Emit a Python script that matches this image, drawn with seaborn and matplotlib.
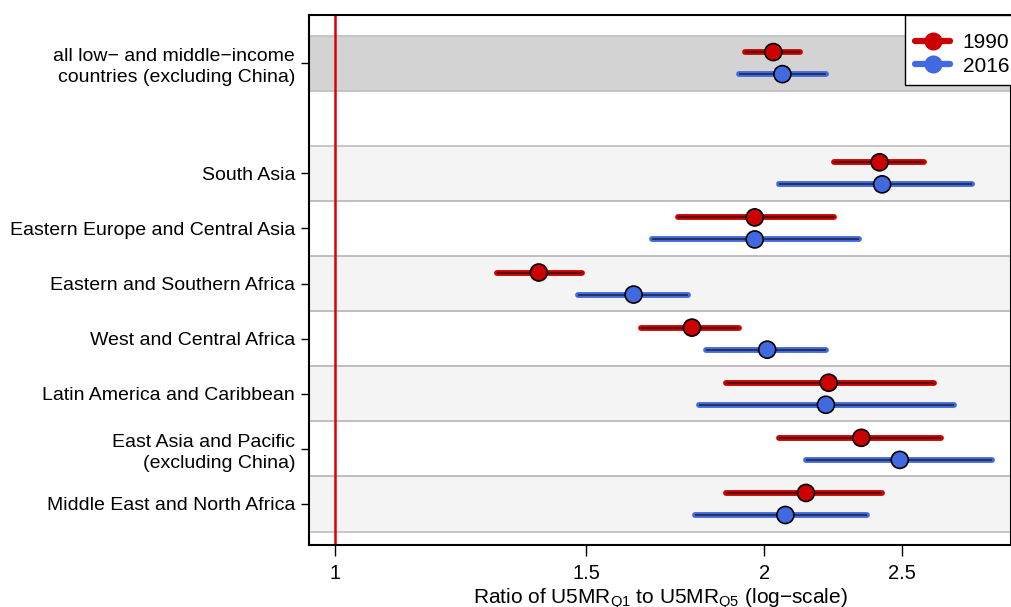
import numpy as np
import pandas as pd
import matplotlib
matplotlib.use("Agg")
import matplotlib.pyplot as plt
from matplotlib.lines import Line2D
import seaborn as sns

# Region labels, top to bottom (None = spacer row)
regions = [
    "all low\u2212 and middle\u2212income\ncountries (excluding China)",
    None,
    "South Asia",
    "Eastern Europe and Central Asia",
    "Eastern and Southern Africa",
    "West and Central Africa",
    "Latin America and Caribbean",
    "East Asia and Pacific\n(excluding China)",
    "Middle East and North Africa",
]

# Ratio of U5MR (poorest quintile / richest quintile) with confidence bounds
ratio_1990 = [2.03, None, 2.41, 1.97, 1.39, 1.78, 2.22, 2.34, 2.14]
lo_1990    = [1.94, None, 2.24, 1.74, 1.30, 1.64, 1.88, 2.05, 1.88]
hi_1990    = [2.12, None, 2.59, 2.24, 1.49, 1.92, 2.63, 2.66, 2.42]

ratio_2016 = [2.06, None, 2.42, 1.97, 1.62, 2.01, 2.21, 2.49, 2.07]
lo_2016    = [1.92, None, 2.05, 1.67, 1.48, 1.82, 1.80, 2.14, 1.79]
hi_2016    = [2.21, None, 2.80, 2.33, 1.77, 2.21, 2.72, 2.89, 2.36]

years = ["1990", "2016"]
colors = {"1990": "#CC0000", "2016": "#4169E1"}
offsets = {"1990": -0.2, "2016": 0.2}

rows = []
for i, name in enumerate(regions):
    if name is None:
        continue
    for yr, r, lo, hi in (("1990", ratio_1990[i], lo_1990[i], hi_1990[i]),
                          ("2016", ratio_2016[i], lo_2016[i], hi_2016[i])):
        rows.append(dict(region=name, row=i, year=yr, ratio=r, lo=lo, hi=hi,
                         ypos=i + offsets[yr]))
df = pd.DataFrame(rows)

sns.set_theme(style="white")
plt.rcParams["font.family"] = ["Liberation Sans", "DejaVu Sans"]
plt.rcParams["text.color"] = "black"
plt.rcParams["axes.labelcolor"] = "black"
plt.rcParams["xtick.color"] = "black"
plt.rcParams["ytick.color"] = "black"
plt.rcParams["mathtext.fontset"] = "custom"
plt.rcParams["mathtext.rm"] = "Liberation Sans"

fig = plt.figure(figsize=(10.11, 6.07), dpi=100)
ax = fig.add_axes([0.3056, 0.1021, 0.6944, 0.8732])

# Background bands
for i, name in enumerate(regions):
    if name is None:
        continue
    if i == 0:
        fc = "#D3D3D3"
    elif i % 2 == 0:
        fc = "#F4F4F4"
    else:
        fc = "white"
    ax.axhspan(i - 0.5, i + 0.5, facecolor=fc, edgecolor="none", zorder=0)
    ax.axhline(i - 0.5, color="#BEBEBE", lw=1.2, zorder=0.5)
    ax.axhline(i + 0.5, color="#BEBEBE", lw=1.2, zorder=0.5)

ax.axvline(1.0, color="#DD0000", lw=1.8, zorder=1)

# Confidence intervals
for yr in years:
    sub = df[df.year == yr]
    ax.hlines(sub.ypos, sub.lo, sub.hi, color=colors[yr], lw=4.2,
              capstyle="round", zorder=2)
    ax.hlines(sub.ypos, sub.lo, sub.hi, color="#1a1a1a", lw=1.3,
              alpha=0.75, zorder=2.5)

sns.scatterplot(data=df, x="ratio", y="ypos", hue="year", palette=colors,
                s=150, edgecolor="black", linewidth=1.2, zorder=3,
                legend=False, ax=ax)

ax.set_xscale("log")
ax.set_xlim(0.959, 2.98)
ax.set_ylim(8.745, -0.873)

ticks = [1, 1.5, 2, 2.5]
ax.set_xticks(ticks)
ax.set_xticklabels(["1", "1.5", "2", "2.5"])
ax.xaxis.set_minor_locator(matplotlib.ticker.NullLocator())

ypos = [i for i, n in enumerate(regions) if n is not None]
ax.set_yticks(ypos)
ax.set_yticklabels([regions[i] for i in ypos], ha="right", linespacing=1.3)

ax.tick_params(axis="x", direction="out", length=8, width=1, color="black",
               labelsize=14.5, pad=6, bottom=True)
ax.tick_params(axis="y", direction="out", length=6, width=1, color="black",
               labelsize=14, pad=4, left=True)

ax.set_xlabel("Ratio of U5MR$_{\\mathrm{Q1}}$ to U5MR$_{\\mathrm{Q5}}$ (log\u2212scale)",
              fontsize=15, labelpad=2)
ax.set_ylabel("")

for s in ax.spines.values():
    s.set_color("black")
    s.set_linewidth(1.5)

handles = [Line2D([0], [0], color=colors[y], lw=4.5, marker="o", markersize=12,
                  label=y) for y in years]
leg = ax.legend(handles=handles, loc="upper right", bbox_to_anchor=(1.011, 1.0),
                borderaxespad=0, fontsize=15, frameon=True, fancybox=False,
                handlelength=1.7, handletextpad=0.6, borderpad=0.45,
                labelspacing=0.22, title=" ", title_fontsize=2)
leg.get_frame().set_edgecolor("black")
leg.get_frame().set_linewidth(1.0)
leg.get_frame().set_alpha(1)

fig.savefig("out.png", dpi=100)
